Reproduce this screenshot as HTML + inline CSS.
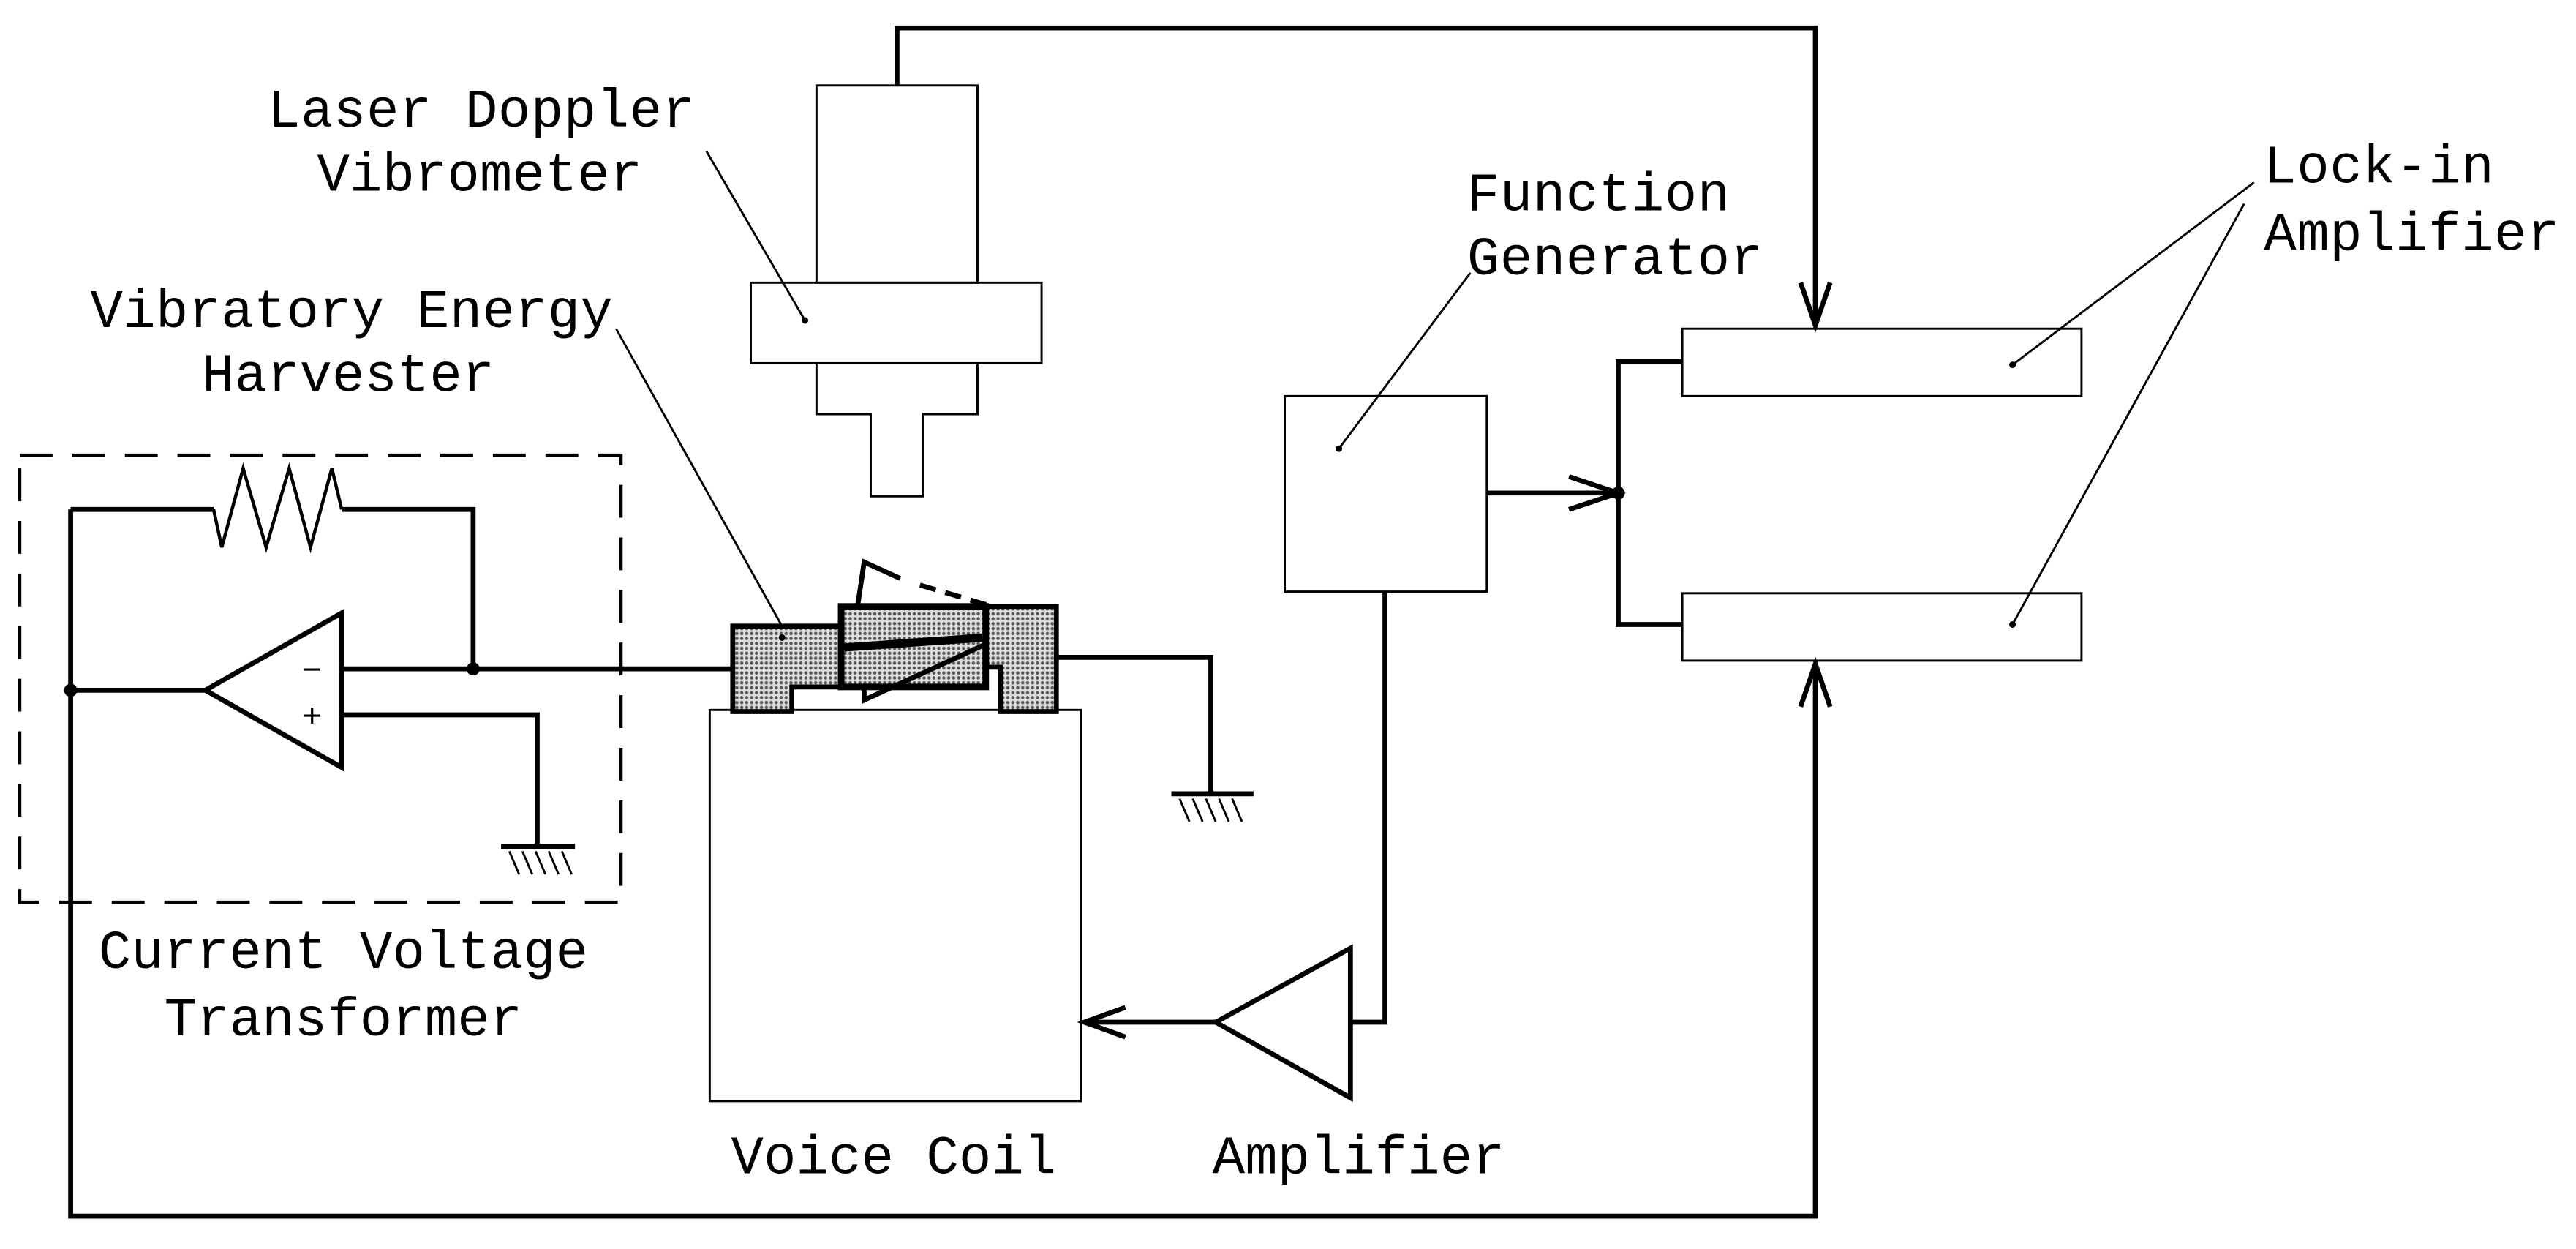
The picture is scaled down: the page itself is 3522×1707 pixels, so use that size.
<!DOCTYPE html>
<html><head><meta charset="utf-8"><style>
html,body{margin:0;padding:0;background:#fff;}
svg{display:block;}
text{font-family:"Liberation Mono",monospace;font-size:33px;fill:#000;}
</style></head><body>
<svg width="3522" height="1707" viewBox="0 0 1568 760" preserveAspectRatio="none" xmlns="http://www.w3.org/2000/svg">
<defs>
<pattern id="dots" width="3" height="3" patternUnits="userSpaceOnUse">
<rect width="3" height="3" fill="#ddd"/>
<circle cx="1.5" cy="1.5" r="1" fill="#555"/>
</pattern>
</defs>
<g fill="none" stroke="#000" stroke-width="3">
<polyline points="546,52 546,17 1105,17 1105,198"/>
<polyline points="1096,172 1105,198 1114,172"/>
<polyline points="43,310 43,740 1105,740 1105,404"/>
<polyline points="1096,430 1105,404 1114,430"/>
<polyline points="43,310 130,310"/>
<polyline points="208,310 288,310 288,407"/>
<polygon points="125,420 208,373 208,467"/>
<line x1="208" y1="407" x2="445" y2="407"/>
<line x1="125" y1="420" x2="43" y2="420"/>
<polyline points="208,435 327,435 327,515"/>
<line x1="305" y1="515" x2="350" y2="515"/>
<polyline points="642,400 737,400 737,483"/>
<line x1="713" y1="483" x2="763" y2="483"/>
<line x1="905" y1="300" x2="985" y2="300"/>
<polyline points="955,290 985,300 955,310"/>
<polyline points="1024,220 985,220 985,380 1024,380"/>
<polyline points="843,360 843,622 822,622"/>
<polygon points="740,622 822,577 822,668"/>
<line x1="740" y1="622" x2="660" y2="622"/>
<polyline points="685,613 660,622 685,631"/>
</g>
<polyline fill="none" stroke="#000" stroke-width="2" points="130,310 135,333 148,285 162,333 176,285 189,333 202,285 208,310"/>
<g fill="none" stroke="#000" stroke-width="1.3">
<line x1="310" y1="518" x2="316" y2="532"/><line x1="318" y1="518" x2="324" y2="532"/><line x1="326" y1="518" x2="332" y2="532"/><line x1="334" y1="518" x2="340" y2="532"/><line x1="342" y1="518" x2="348" y2="532"/>
<line x1="718" y1="486" x2="724" y2="500"/><line x1="726" y1="486" x2="732" y2="500"/><line x1="734" y1="486" x2="740" y2="500"/><line x1="742" y1="486" x2="748" y2="500"/><line x1="750" y1="486" x2="756" y2="500"/>
<rect x="12" y="277" width="366" height="272" stroke-dasharray="20,12" stroke-width="2"/>
<rect x="497" y="52" width="98" height="120"/>
<rect x="457" y="172" width="177" height="49"/>
<polyline points="497,221 497,252 530,252 530,302 562,302 562,252 595,252 595,221"/>
<rect x="782" y="241" width="123" height="119"/>
<rect x="1024" y="200" width="243" height="41"/>
<rect x="1024" y="361" width="243" height="41"/>
<rect x="432" y="432" width="226" height="238"/>
<line x1="430" y1="92" x2="490" y2="195"/>
<line x1="375" y1="200" x2="476" y2="381"/>
<line x1="895" y1="166" x2="815" y2="273"/>
<line x1="1372" y1="111" x2="1225" y2="222"/>
<line x1="1366" y1="124" x2="1225" y2="380"/>
</g>
<polygon points="446,381 512,381 512,369 643,369 643,433 609,433 609,406 600,406 600,418 482,418 482,433 446,433" fill="url(#dots)" stroke="#000" stroke-width="3"/>
<rect x="512" y="369" width="88" height="49" fill="url(#dots)" stroke="#000" stroke-width="4"/>
<line x1="514" y1="394" x2="598" y2="388" stroke="#000" stroke-width="5"/>
<g fill="none" stroke="#000" stroke-width="3">
<polyline points="522,369 526,342 548,352" />
<line x1="560" y1="356" x2="604" y2="369" stroke-dasharray="10,6"/>
<polyline points="526,418 526,426 600,392"/>
</g>
<g fill="#000">
<circle cx="43" cy="420" r="4"/><circle cx="288" cy="407" r="4"/><circle cx="985" cy="300" r="4"/>
<circle cx="490" cy="195" r="2"/><circle cx="815" cy="273" r="2"/><circle cx="1225" cy="222" r="2"/><circle cx="1225" cy="380" r="2"/><circle cx="476" cy="388" r="2"/>
</g>
<text x="184" y="414" style="font-size:20px">−</text>
<text x="184" y="442" style="font-size:20px">+</text>
<text x="163" y="77" textLength="260">Laser Doppler</text>
<text x="193" y="116" textLength="198">Vibrometer</text>
<text x="55" y="199" textLength="318">Vibratory Energy</text>
<text x="123" y="238" textLength="178">Harvester</text>
<text x="893" y="128" textLength="160">Function</text>
<text x="893" y="167" textLength="180">Generator</text>
<text x="1378" y="111" textLength="140">Lock-in</text>
<text x="1378" y="152" textLength="180">Amplifier</text>
<text x="60" y="589" textLength="298">Current Voltage</text>
<text x="100" y="630" textLength="218">Transformer</text>
<text x="445" y="714" textLength="198">Voice Coil</text>
<text x="738" y="714" textLength="178">Amplifier</text>
</svg>
</body></html>
